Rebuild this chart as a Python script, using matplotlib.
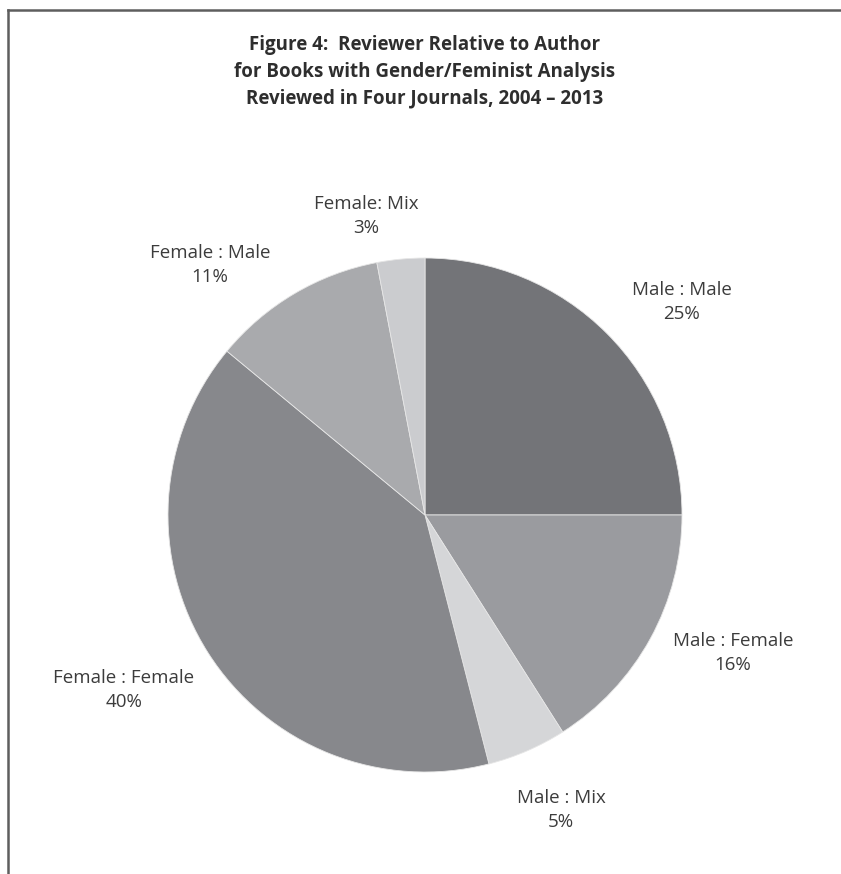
import matplotlib.pyplot as plt
from matplotlib.lines import Line2D

# Reviewer : Author pairs, clockwise from 12 o'clock
categories = ["Male : Male", "Male : Female", "Male : Mix",
              "Female : Female", "Female : Male", "Female: Mix"]
shares = [25, 16, 5, 40, 11, 3]
colors = ["#737478", "#9a9b9f", "#d5d6d8", "#87888c", "#a9aaad", "#cbcccf"]

# label positions in pixel coords (x, y from top)
label_pos = [(682, 302), (733, 653), (561, 810), (124, 690), (210, 265), (366, 216)]

W, H = 841, 874
fig = plt.figure(figsize=(W / 100, H / 100), dpi=100)
ax = fig.add_axes([0, 0, 1, 1])
ax.set_xlim(0, W)
ax.set_ylim(0, H)
ax.set_aspect("equal")
ax.axis("off")

ax.pie(shares, colors=colors, startangle=90, counterclock=False,
       center=(425, H - 515), radius=257,
       wedgeprops=dict(edgecolor="#e6e6e6", linewidth=0.6))
ax.set_xlim(0, W)
ax.set_ylim(0, H)

for name, val, (x, y) in zip(categories, shares, label_pos):
    ax.text(x, H - y, f"{name}\n{val}%", ha="center", va="center",
            fontsize=13.5, color="#3c3c3c", family="Open Sans", linespacing=1.45)

ax.text(425, H - 72,
        "Figure 4:  Reviewer Relative to Author\n"
        "for Books with Gender/Feminist Analysis\n"
        "Reviewed in Four Journals, 2004 \u2013 2013",
        ha="center", va="center", fontsize=13.5, fontweight="bold",
        color="#2e2e2e", family="Open Sans", linespacing=1.45)

# frame (top and left edges)
ax.add_line(Line2D([8, W], [H - 10, H - 10], color="#5e5e5e", lw=1.8))
ax.add_line(Line2D([8, 8], [H - 10, 0], color="#5e5e5e", lw=1.8))

fig.savefig("out.png", dpi=100, facecolor="white")
